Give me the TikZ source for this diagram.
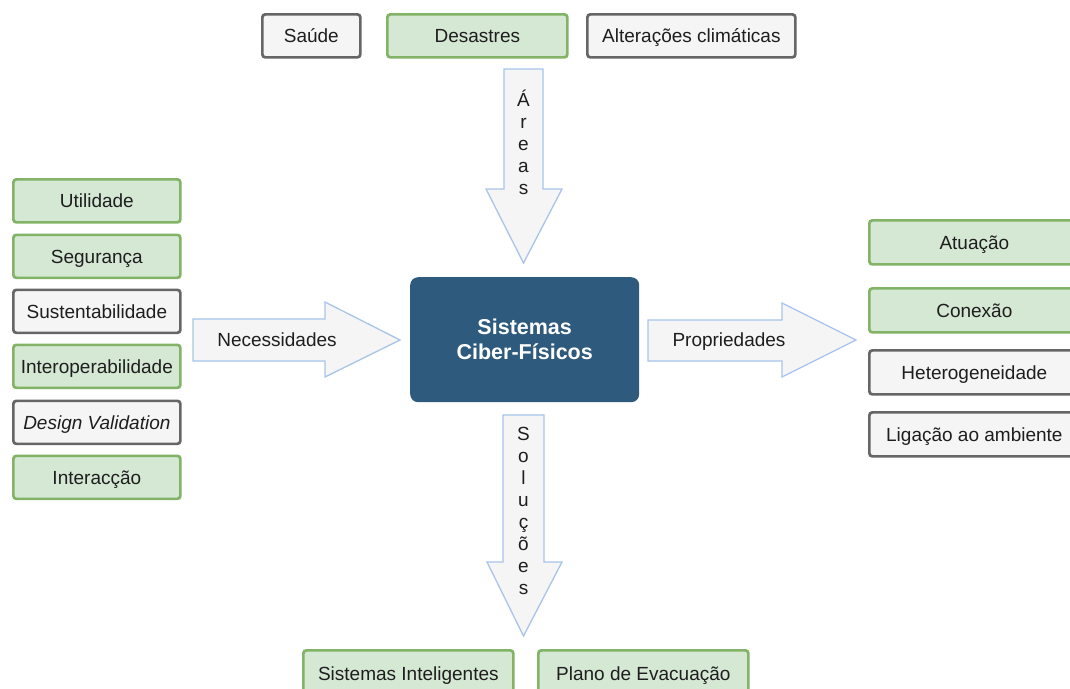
\documentclass[tikz,border=0pt]{standalone}
\usepackage{fontspec}
\setmainfont{Liberation Sans}
\definecolor{gfill}{RGB}{213,232,212}
\definecolor{gline}{RGB}{130,179,102}
\definecolor{nfill}{RGB}{245,245,245}
\definecolor{nline}{RGB}{102,102,102}
\definecolor{afill}{RGB}{245,245,245}
\definecolor{aline}{RGB}{169,196,235}
\definecolor{core}{RGB}{46,91,125}
\definecolor{ink}{RGB}{30,30,30}
\begin{document}
\begin{tikzpicture}[x=1pt,y=-1pt,
  lbl/.style={font=\fontsize{19}{22}\selectfont, text=ink, inner sep=0pt},
  oneline/.style={lbl, text height=13.6pt, text depth=0pt},
  item/.style={oneline, rectangle, rounded corners=3pt, line width=2.7pt, anchor=north west},
  goodbox/.style={item, fill=gfill, draw=gline},
  plainbox/.style={item, fill=nfill, draw=nline},
  blockarrow/.style={fill=afill, draw=aline, line width=1.3pt, line join=miter},
  vtext/.style={lbl, align=center, font=\fontsize{19}{22}\selectfont}]
\useasboundingbox (0,0) rectangle (1070,688);
\clip (0,0) rectangle (1070,688);
\fill[white] (0,0) rectangle (1070,688);

% central system
\node[lbl, rectangle, rounded corners=8pt, fill=core, text=white, align=center,
      minimum width=229pt, minimum height=125pt, anchor=north west,
      font=\fontsize{21.5}{25}\selectfont\bfseries] (cps) at (410,277) {Sistemas\\Ciber-Físicos};

% top: areas
\node[plainbox, minimum width=98pt,  minimum height=43pt] (saude) at (261,13) {Saúde};
\node[goodbox,  minimum width=180pt, minimum height=43pt] (desastres) at (386,13) {Desastres};
\node[plainbox, minimum width=208pt, minimum height=43pt] (clima) at (586,13) {Alterações climáticas};

\draw[blockarrow] (504,69) -- (543,69) -- (543,189) -- (562,189) -- (523.5,263)
  -- (486,189) -- (504,189) -- cycle;
\node[vtext] (areas) at (523.5,142) {Á\\r\\e\\a\\s};

% left: needs
\node[goodbox,  minimum width=167pt, minimum height=43pt] (utilidade) at (12,178) {Utilidade};
\node[goodbox,  minimum width=167pt, minimum height=43pt] (seguranca) at (12,233.5) {Segurança};
\node[plainbox, minimum width=167pt, minimum height=43pt] (sustent) at (12,288.5) {Sustentabilidade};
\node[goodbox,  minimum width=167pt, minimum height=43pt] (interop) at (12,343.5) {Interoperabilidade};
\node[plainbox, minimum width=167pt, minimum height=43pt] (design) at (12,399.5) {\itshape Design Validation};
\node[goodbox,  minimum width=167pt, minimum height=43pt] (interac) at (12,454.5) {Interacção};

\draw[blockarrow] (193,319) -- (325,319) -- (325,302) -- (400,340) -- (325,377)
  -- (325,361) -- (193,361) -- cycle;
\node[oneline] (necess) at (277,340) {Necessidades};

% right: properties
\draw[blockarrow] (648,320) -- (782,320) -- (782,303) -- (856,340) -- (782,377)
  -- (782,361) -- (648,361) -- cycle;
\node[oneline] (propr) at (729,340) {Propriedades};

\node[goodbox,  minimum width=210pt, minimum height=44pt] (atuacao) at (868,219) {Atuação};
\node[goodbox,  minimum width=210pt, minimum height=44pt] (conexao) at (868,287) {Conexão};
\node[plainbox, minimum width=210pt, minimum height=44pt] (hetero) at (868,349) {Heterogeneidade};
\node[plainbox, minimum width=210pt, minimum height=44pt] (ligacao) at (868,411) {Ligação ao ambiente};

% bottom: solutions
\draw[blockarrow] (503,415) -- (544,415) -- (544,562) -- (562,562) -- (523.5,636)
  -- (487,562) -- (503,562) -- cycle;
\node[vtext] (soluc) at (523.5,511) {S\\o\\l\\u\\ç\\õ\\e\\s};

\node[goodbox, minimum width=210pt, minimum height=46pt] (intelig) at (302,649) {Sistemas Inteligentes};
\node[goodbox, minimum width=210pt, minimum height=46pt] (evacua) at (537,649) {Plano de Evacuação};
\end{tikzpicture}
\end{document}
